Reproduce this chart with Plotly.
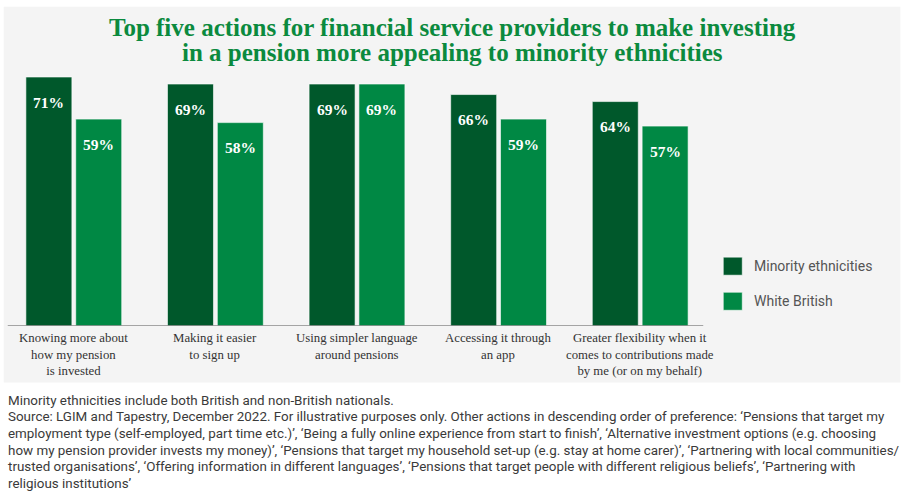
import plotly.graph_objects as go

categories = [
    "Knowing more about<br>how my pension<br>is invested",
    "Making it easier<br>to sign up",
    "Using simpler language<br>around pensions",
    "Accessing it through<br>an app",
    "Greater flexibility when it<br>comes to contributions made<br>by me (or on my behalf)",
]
series_names = ["Minority ethnicities", "White British"]
minority = [71, 69, 69, 66, 64]
white_british = [59, 58, 69, 59, 57]
title_lines = [
    "Top five actions for financial service providers to make investing",
    "in a pension more appealing to minority ethnicities",
]
footnote_lines = [
    "Minority ethnicities include both British and non-British nationals.",
    "Source: LGIM and Tapestry, December 2022. For illustrative purposes only. Other actions in descending order of preference: \u2018Pensions that target my",
    "employment type (self-employed, part time etc.)\u2019, \u2018Being a fully online experience from start to finish\u2019, \u2018Alternative investment options (e.g. choosing",
    "how my pension provider invests my money)\u2019, \u2018Pensions that target my household set-up (e.g. stay at home carer)\u2019, \u2018Partnering with local communities/",
    "trusted organisations\u2019, \u2018Offering information in different languages\u2019, \u2018Pensions that target people with different religious beliefs\u2019, \u2018Partnering with",
    "religious institutions\u2019",
]

DARK = "#00582b"
LIGHT = "#008844"
TITLE_C = "#0b8a3e"
SERIF = "Liberation Serif, serif"
SANS = "Roboto, sans-serif"

W, H = 903, 493
L, R = 3.25, 192.25
T, B = 63.2, 167.3
PW = W - L - R
PH = H - T - B

def px(x):
    return (x - L) / PW

def py(y):
    return (H - B - y) / PH

x_idx = list(range(len(categories)))

fig = go.Figure()
fig.add_trace(go.Bar(x=x_idx, y=minority, name=series_names[0], marker=dict(color=DARK, line=dict(color="#ffffff", width=0.6)), showlegend=False, hoverinfo="y"))
fig.add_trace(go.Bar(x=x_idx, y=white_british, name=series_names[1], marker=dict(color=LIGHT, line=dict(color="#ffffff", width=0.6)), showlegend=False, hoverinfo="y"))

annotations = []
offset = 0.176
for vals, sign in ((minority, -1), (white_british, 1)):
    for i, v in enumerate(vals):
        annotations.append(dict(x=i + sign * offset, y=v, xref="x", yref="y", text=f"<b>{v}%</b>",
                                showarrow=False, yshift=-25, yanchor="middle",
                                font=dict(family=SERIF, size=15.5, color="white")))

for i, c in enumerate(categories):
    annotations.append(dict(x=i, y=0, xref="x", yref="y", text=c, showarrow=False,
                            yanchor="top", yshift=-3, align="center",
                            font=dict(family=SERIF, size=12.8, color="#333333")))

# title
for line, yc in zip(title_lines, (28, 53)):
    annotations.append(dict(x=px(452), y=py(yc), xref="paper", yref="paper", text=f"<b>{line}</b>",
                            showarrow=False, xanchor="center", yanchor="middle",
                            font=dict(family=SERIF, size=25, color=TITLE_C)))

# legend
shapes = []
for name, color, yc in ((series_names[0], DARK, 266), (series_names[1], LIGHT, 301)):
    shapes.append(dict(type="rect", xref="paper", yref="paper", x0=px(723), x1=px(742), y0=py(yc - 9), y1=py(yc + 9),
                       fillcolor=color, line=dict(width=0.6, color="#ffffff")))
    annotations.append(dict(x=px(752), y=py(yc), xref="paper", yref="paper", text=name, showarrow=False,
                            xanchor="left", yanchor="middle", font=dict(family=SANS, size=14, color="#555555")))

# footnote, one line each
for k, line in enumerate(footnote_lines):
    annotations.append(dict(x=px(6), y=py(400 + 16.5 * k), xref="paper", yref="paper", text=line,
                            showarrow=False, xanchor="left", yanchor="middle", align="left",
                            font=dict(family=SANS, size=13.4, color="#3a3a3a")))

# panel background
shapes.insert(0, dict(type="rect", xref="paper", yref="paper", x0=px(4), x1=px(900), y0=py(7), y1=py(382),
                      fillcolor="#f4f4f4", line=dict(width=0), layer="below"))
# baseline
shapes.append(dict(type="line", xref="x", yref="y", x0=(8 - L) / (PW / 5) - 0.5, x1=(703 - L) / (PW / 5) - 0.5,
                   y0=0, y1=0, line=dict(color="#8a8a8a", width=1.3)))

fig.update_layout(
    width=W, height=H,
    margin=dict(l=L, r=R, t=T, b=B, pad=0),
    paper_bgcolor="white", plot_bgcolor="rgba(0,0,0,0)",
    barmode="group", bargap=0.296, bargroupgap=0.077,
    xaxis=dict(range=[-0.5, 4.5], showticklabels=False, showgrid=False, zeroline=False, showline=False, ticks=""),
    yaxis=dict(range=[0, 75], showticklabels=False, showgrid=False, zeroline=False, showline=False, ticks=""),
    annotations=annotations, shapes=shapes, showlegend=False,
)
fig.write_html("out.html", config={"displayModeBar": False},
               post_script="document.body.style.margin='0';document.body.style.overflow='hidden';")
